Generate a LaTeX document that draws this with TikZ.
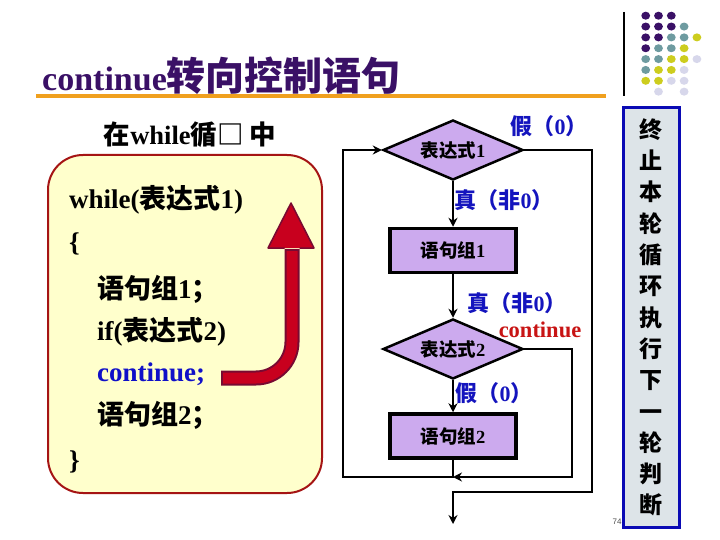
\documentclass[tikz,border=0pt]{standalone}
\usepackage{fontspec}
\setmainfont{Liberation Serif}
\setsansfont{Liberation Sans}
\newfontfamily\cjk{Noto Sans CJK SC}
\usetikzlibrary{shapes.geometric,arrows.meta}
\definecolor{dpurp}{RGB}{58,16,102}
\definecolor{dteal}{RGB}{110,155,160}
\definecolor{dyel}{RGB}{205,205,30}
\definecolor{dlav}{RGB}{215,215,235}
\definecolor{orangeline}{RGB}{240,160,30}
\definecolor{panelfill}{RGB}{255,255,204}
\definecolor{panelborder}{RGB}{165,20,20}
\definecolor{arrowred}{RGB}{200,0,30}
\definecolor{arrowdark}{RGB}{120,10,50}
\definecolor{lav}{RGB}{204,170,238}
\definecolor{lblblue}{RGB}{20,20,190}
\definecolor{lblred}{RGB}{200,20,20}
\definecolor{codeblue}{RGB}{16,16,200}
\definecolor{boxblue}{RGB}{10,10,180}
\definecolor{boxfill}{RGB}{221,228,232}
\newcommand\zh[1]{{\cjk\bfseries #1}}
\tikzset{
  dec/.style={diamond, aspect=2.33, draw=black, line width=2.5pt, fill=lav,
    minimum width=140pt, minimum height=60pt, inner sep=0pt,
    font=\bfseries\fontsize{18.5}{20}\selectfont},
  proc/.style={rectangle, draw=black, line width=3.5pt, fill=lav,
    minimum width=126pt, minimum height=44pt, inner sep=0pt,
    font=\bfseries\fontsize{18.5}{20}\selectfont},
  fline/.style={line width=2.8pt, draw=black},
  flow/.style={fline, -{Stealth[length=9pt,width=9pt,inset=3pt]}},
  lbl/.style={inner sep=0pt, text=lblblue, font=\bfseries\fontsize{22}{24}\selectfont},
  codeline/.style={anchor=west, inner sep=0pt, font=\bfseries\fontsize{27}{30}\selectfont},
  dot/.style={draw=none}
}
\begin{document}
\begin{tikzpicture}[x=1pt,y=-1pt]
\useasboundingbox (0,0) rectangle (720,540);
\fill[white] (0,0) rectangle (720,540);

% title
\node[anchor=west, inner sep=0pt, text=dpurp] (title) at (42,76)
  {\bfseries\fontsize{34}{36}\selectfont continue\zh{\fontsize{39}{41}\selectfont 转向控制语句}};
\draw[orangeline, line width=4.5pt] (36,96) -- (606,96);
\draw[black, line width=1.2pt] (624,12) -- (624,96);

% decorative dots
\foreach \c/\r/\col in {
  1/1/dpurp,2/1/dpurp,3/1/dpurp,
  1/2/dpurp,2/2/dpurp,3/2/dpurp,4/2/dteal,
  1/3/dpurp,2/3/dpurp,3/3/dteal,4/3/dteal,5/3/dyel,
  1/4/dpurp,2/4/dteal,3/4/dteal,4/4/dyel,
  1/5/dteal,2/5/dteal,3/5/dyel,4/5/dyel,5/5/dlav,
  1/6/dteal,2/6/dyel,3/6/dyel,4/6/dlav,
  1/7/dyel,2/7/dyel,3/7/dlav,4/7/dlav,
  2/8/dlav,4/8/dlav}{
  \fill[\col] ({645.7+12.8*(\c-1)},{15.7+10.85*(\r-1)}) ellipse [x radius=4.4pt, y radius=4pt];
}

% page number
\node[inner sep=0pt, font=\sffamily\fontsize{8}{9}\selectfont, text=black!70] (pg) at (617,522) {74};

% right box
\node[draw=boxblue, line width=3pt, fill=boxfill, minimum width=56pt, minimum height=419pt,
  inner sep=0pt, align=center, font=\cjk\bfseries\fontsize{23}{31.3}\selectfont] (stop) at (651,317.5)
  {终\\止\\本\\轮\\循\\环\\执\\行\\下\\一\\轮\\判\\断};

% left panel
\node[inner sep=0pt, font=\bfseries\fontsize{26.5}{28}\selectfont] (head) at (190,135)
  {\zh{在}while\zh{循□ 中}};
\node[draw=panelborder, line width=2pt, fill=panelfill, rounded corners=35pt,
  minimum width=274pt, minimum height=338pt] (panel) at (185,324) {};
\node[codeline] (c1) at (69,200) {while(\zh{表达式}1)};
\node[codeline] (c2) at (69,244) {\{};
\node[codeline] (c3) at (97,289) {\zh{语句组}1\zh{；}};
\node[codeline] (c4) at (97,332) {if(\zh{表达式}2)};
\node[codeline, text=codeblue] (c5) at (97,374) {continue;};
\node[codeline] (c6) at (97,415) {\zh{语句组}2\zh{；}};
\node[codeline] (c7) at (69,462) {\}};

% red arrow
\draw[line width=15pt, draw=arrowdark, rounded corners=36pt] (221,378) -- (292,378) -- (292,249);
\draw[line width=11pt, draw=arrowred, rounded corners=36pt] (223,378) -- (292,378) -- (292,251);
\fill[arrowred] (268,248) -- (291,203) -- (314,248) -- cycle;
\draw[arrowdark, line width=1.5pt, line join=round] (284.5,248) -- (268,248) -- (291,203) -- (314,248) -- (299.5,248);

% flowchart
\node[dec] (d1) at (453,150) {\zh{表达式}1};
\node[proc] (r1) at (453,250.5) {\zh{语句组}1};
\node[dec] (d2) at (453,349) {\zh{表达式}2};
\node[proc] (r2) at (453,436) {\zh{语句组}2};

\coordinate (j) at (453,477);
\coordinate (lb) at (343,477);
\coordinate (lt) at (343,150);
\coordinate (cr1) at (572,349);
\coordinate (cr2) at (572,477);
\coordinate (ex1) at (592,150);
\coordinate (ex2) at (592,492);
\coordinate (ex3) at (453,492);
\coordinate (ex4) at (453,524);

\draw[flow] (d1.south) -- (r1.north);
\draw[flow] (r1.south) -- (d2.north);
\draw[flow] (d2.south) -- (r2.north);
\draw[flow] (r2.south) -- (j) -- (lb) -- (lt) -- (d1.west);
\draw[flow] (d2.east) -- (cr1) -- (cr2) -- (j);
\draw[flow] (d1.east) -- (ex1) -- (ex2) -- (ex3) -- (ex4);

\node[lbl] (l1) at (549,126) {\zh{假（}0\zh{）}};
\node[lbl] (l2) at (504,200) {\zh{真（非}0\zh{）}};
\node[lbl] (l3) at (517,303) {\zh{真（非}0\zh{）}};
\node[inner sep=0pt, text=lblred, font=\bfseries\fontsize{22.5}{24}\selectfont] (l4) at (540,330) {continue};
\node[lbl] (l5) at (494,393) {\zh{假（}0\zh{）}};
\end{tikzpicture}
\end{document}
